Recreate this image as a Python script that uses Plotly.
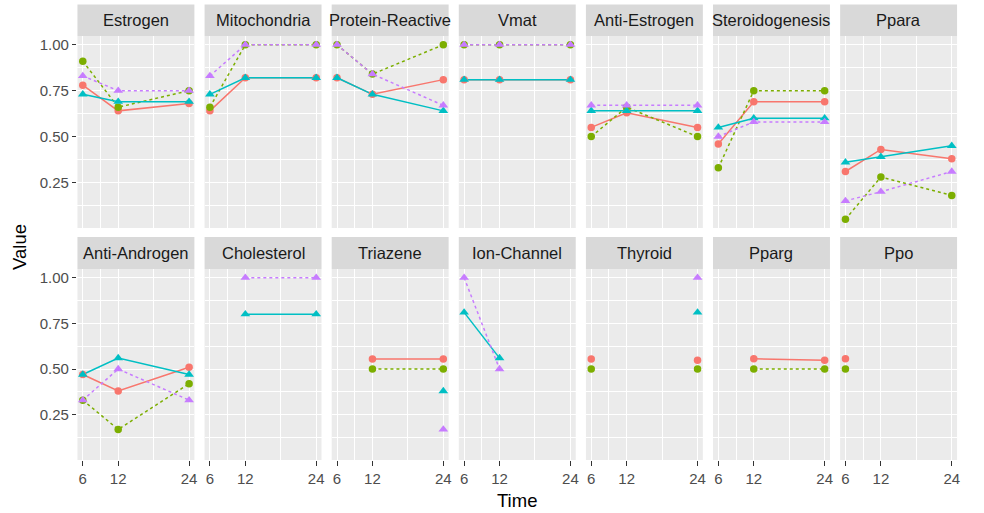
import plotly.graph_objects as go

# Facet panels, in reading order (two rows of seven)
panels = ["Estrogen", "Mitochondria", "Protein-Reactive", "Vmat", "Anti-Estrogen",
          "Steroidogenesis", "Ppara", "Anti-Androgen", "Cholesterol", "Triazene",
          "Ion-Channel", "Thyroid", "Pparg", "Ppo"]

times = [6, 12, 24]
time_labels = ["6", "12", "24"]
value_ticks = [0.25, 0.50, 0.75, 1.00]
value_labels = ["0.25", "0.50", "0.75", "1.00"]

# One row per panel, values at 6 / 12 / 24
series_a = [
    [0.78, 0.64, 0.68], [0.64, 0.82, 0.82], [0.82, 0.73, 0.81], [0.81, 0.81, 0.81],
    [0.55, 0.63, 0.55], [0.46, 0.69, 0.69], [0.31, 0.43, 0.38], [0.47, 0.38, 0.51],
    [None, None, None], [None, 0.555, 0.555], [None, None, None], [0.555, None, 0.548],
    [None, 0.556, 0.548], [0.556, None, None],
]
series_b = [
    [0.91, 0.66, 0.75], [0.66, 1.00, 1.00], [1.00, 0.84, 1.00], [1.00, 1.00, 1.00],
    [0.50, 0.66, 0.50], [0.33, 0.75, 0.75], [0.05, 0.28, 0.18], [0.33, 0.17, 0.42],
    [None, None, None], [None, 0.50, 0.50], [None, None, None], [0.50, None, 0.50],
    [None, 0.50, 0.50], [0.50, None, None],
]
series_c = [
    [0.73, 0.69, 0.69], [0.73, 0.82, 0.82], [0.82, 0.73, 0.64], [0.81, 0.81, 0.81],
    [0.64, 0.64, 0.64], [0.55, 0.60, 0.60], [0.36, 0.39, 0.45], [0.47, 0.56, 0.47],
    [None, 0.80, 0.80], [None, None, 0.38], [0.81, 0.56, None], [None, None, 0.81],
    [None, None, None], [None, None, None],
]
series_d = [
    [0.83, 0.75, 0.75], [0.83, 1.00, 1.00], [1.00, 0.84, 0.67], [1.00, 1.00, 1.00],
    [0.67, 0.67, 0.67], [0.50, 0.58, 0.58], [0.15, 0.20, 0.31], [0.33, 0.50, 0.33],
    [None, 1.00, 1.00], [None, None, 0.17], [1.00, 0.50, None], [None, None, 1.00],
    [None, None, None], [None, None, None],
]

series = [
    ("A", series_a, "#F8766D", "solid", "circle", 7.5),
    ("B", series_b, "#7CAE00", "3px,3px", "circle", 7.5),
    ("C", series_c, "#00BFC4", "solid", "triangle-up", 8.5),
    ("D", series_d, "#C77CFF", "3px,3px", "triangle-up", 8.5),
]

W, H = 984, 513
FONT = "Liberation Sans, Arial, sans-serif"

# panel geometry in pixels
left0, step, pw = 77.7, 127.5, 117.3
rows_px = [(36, 228), (269, 460)]      # panel top / bottom
strips_px = [(4.5, 36), (237, 269)]    # strip top / bottom

def px_x(x):
    return x / W

def px_y(y):
    return 1 - y / H

fig = go.Figure()
layout = {}
shapes = []
annotations = []

for i, name in enumerate(panels):
    r, c = divmod(i, 7)
    n = i + 1
    xs = "" if n == 1 else str(n)
    x0 = left0 + c * step
    x1 = x0 + pw
    top, bot = rows_px[r]
    layout["xaxis" + xs] = dict(
        domain=[px_x(x0), px_x(x1)], anchor="y" + xs, range=[5.1, 24.9],
        tickvals=times, ticktext=time_labels,
        showticklabels=(r == 1), ticks="outside" if r == 1 else "",
        ticklen=4.5, tickwidth=1.1, tickcolor="#333333",
        tickfont=dict(family=FONT, size=15, color="#4D4D4D"),
        showgrid=True, gridcolor="white", gridwidth=1.4,
        minor=dict(tickvals=[9, 18], showgrid=True, gridcolor="white", gridwidth=0.7),
        zeroline=False, showline=False, fixedrange=True,
    )
    layout["yaxis" + xs] = dict(
        domain=[px_y(bot), px_y(top)], anchor="x" + xs, range=[0.0025, 1.0475],
        tickvals=value_ticks, ticktext=value_labels,
        showticklabels=(c == 0), ticks="outside" if c == 0 else "",
        ticklen=4.5, tickwidth=1.1, tickcolor="#333333",
        tickfont=dict(family=FONT, size=15, color="#4D4D4D"),
        showgrid=True, gridcolor="white", gridwidth=1.4,
        minor=dict(tickvals=[0.125, 0.375, 0.625, 0.875], showgrid=True,
                   gridcolor="white", gridwidth=0.7),
        zeroline=False, showline=False, fixedrange=True,
    )
    st, sb = strips_px[r]
    shapes.append(dict(type="rect", xref="paper", yref="paper",
                       x0=px_x(x0), x1=px_x(x1), y0=px_y(sb), y1=px_y(st),
                       fillcolor="#D9D9D9", line=dict(width=0), layer="below"))
    annotations.append(dict(text=name, xref="paper", yref="paper",
                            x=px_x((x0 + x1) / 2), y=px_y((st + sb) / 2),
                            xanchor="center", yanchor="middle", showarrow=False,
                            font=dict(family=FONT, size=16.5, color="#1A1A1A")))

# lines first, then points on top
for mode in ("lines", "markers"):
    for i in range(len(panels)):
        n = i + 1
        xs = "" if n == 1 else str(n)
        for label, vals, color, dash, symbol, msize in series:
            fig.add_trace(go.Scatter(
                x=times, y=vals[i], mode=mode, name=label, showlegend=False,
                xaxis="x" + xs, yaxis="y" + xs, connectgaps=False,
                line=dict(color=color, width=1.5, dash=dash),
                marker=dict(color=color, symbol=symbol, size=msize, line=dict(width=0)),
                hoverinfo="skip",
            ))

annotations.append(dict(text="Time", xref="paper", yref="paper",
                        x=px_x((left0 + left0 + 6 * step + pw) / 2), y=px_y(500),
                        xanchor="center", yanchor="middle", showarrow=False,
                        font=dict(family=FONT, size=18.5, color="#000000")))
annotations.append(dict(text="Value", xref="paper", yref="paper",
                        x=px_x(20), y=px_y(247), textangle=-90,
                        xanchor="center", yanchor="middle", showarrow=False,
                        font=dict(family=FONT, size=18.5, color="#000000")))

fig.update_layout(
    width=W, height=H, margin=dict(l=0, r=0, t=0, b=0),
    paper_bgcolor="white", plot_bgcolor="#EBEBEB",
    shapes=shapes, annotations=annotations, showlegend=False,
    **layout,
)

fig.write_html("out.html")
